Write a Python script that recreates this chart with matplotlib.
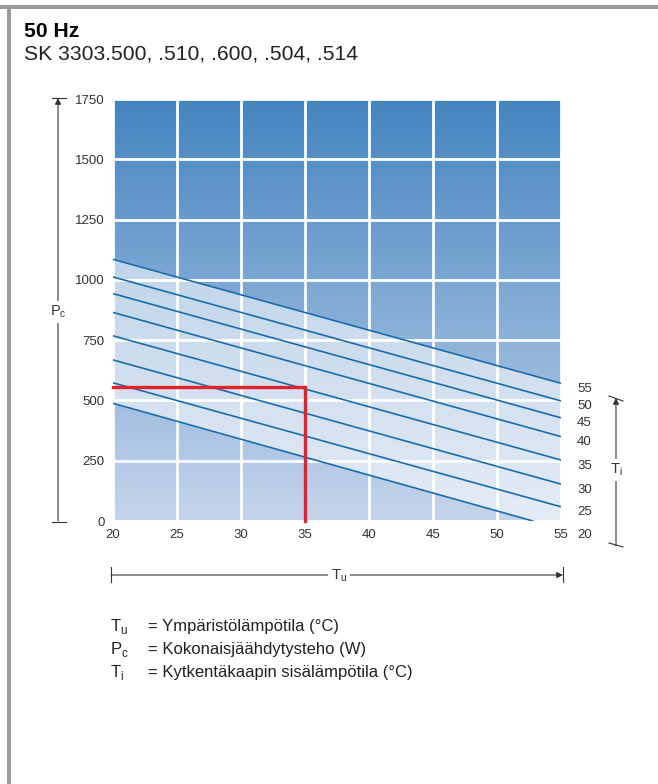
import numpy as np
import matplotlib.pyplot as plt
from matplotlib.colors import LinearSegmentedColormap
from matplotlib.lines import Line2D
from matplotlib.patches import Rectangle

plt.rcParams['font.family'] = ['Liberation Sans', 'DejaVu Sans']
plt.rcParams['mathtext.fontset'] = 'custom'
plt.rcParams['mathtext.rm'] = 'Liberation Sans'

# Ti curves: cooling output Pc at Tu = 20 and at the right end
ti_values = [55, 50, 45, 40, 35, 30, 25, 20]
pc_at_20 = [1085, 1012, 943, 865, 768, 668, 573, 488]
tu_end = [55, 55, 55, 55, 55, 55, 55, 52.8]
pc_at_end = [571, 498, 428, 350, 253, 153, 59, 0]

# example operating point
op_tu = 35
op_pc = 555

x_ticks = [20, 25, 30, 35, 40, 45, 50, 55]
y_ticks = [0, 250, 500, 750, 1000, 1250, 1500, 1750]

legend_rows = [
    ("T$_\\mathrm{u}$", "= Ympäristölämpötila (°C)"),
    ("P$_\\mathrm{c}$", "= Kokonaisjäähdytysteho (W)"),
    ("T$_\\mathrm{i}$", "= Kytkentäkaapin sisälämpötila (°C)"),
]

W, H = 658, 784
fig = plt.figure(figsize=(W / 100, H / 100), dpi=100)


def px(x, y):
    # pixel position (from top-left) -> figure fraction
    return x / W, 1 - y / H


ax = fig.add_axes([113 / W, 1 - 521 / H, 448 / W, 422 / H])

# background gradient
cmap = LinearSegmentedColormap.from_list("bg", ["#c6d5ec", "#4484c0"])
grad = np.linspace(0, 1, 256).reshape(-1, 1)
ax.imshow(grad, cmap=cmap, origin='lower', aspect='auto',
          extent=[20, 55, 0, 1750], zorder=0)

# lighter band between the 55 and 20 curves
xs = np.linspace(20, 55, 200)
top = np.interp(xs, [20, tu_end[0]], [pc_at_20[0], pc_at_end[0]])
bottom = np.interp(xs, [20, tu_end[-1]], [pc_at_20[-1], pc_at_end[-1]], right=0)
ax.fill_between(xs, bottom, top, color='white', alpha=0.55, lw=0, zorder=1)

ax.set_xlim(20, 55)
ax.set_ylim(0, 1750)
ax.set_xticks(x_ticks)
ax.set_yticks(y_ticks)
ax.grid(True, color='white', lw=2)
ax.set_axisbelow(False)
for s in ax.spines.values():
    s.set_visible(False)
ax.tick_params(length=0, labelsize=9.5, labelcolor='#333333', pad=6)

for ti, p0, te, p1 in zip(ti_values, pc_at_20, tu_end, pc_at_end):
    ax.plot([20, te], [p0, p1], color='#1a6db0', lw=1.2, zorder=3)
    dy = -10 if p1 == 0 else -4
    ax.annotate(str(ti), xy=(55, p1), xytext=(11.5, dy), textcoords='offset points',
                fontsize=9.5, color='#333333', va='center', ha='left',
                annotation_clip=False)

ax.plot([20, op_tu, op_tu], [op_pc, op_pc, 0], color='#e8202a', lw=2.4,
        zorder=4, solid_joinstyle='miter', clip_on=False)

# frame
fig.patches.append(Rectangle(px(0, 9), 1, 4 / H, transform=fig.transFigure,
                             color='#9a9a9a', lw=0))
fig.patches.append(Rectangle(px(7, H), 4 / W, 1 - 5 / H, transform=fig.transFigure,
                             color='#9a9a9a', lw=0))

fig.text(*px(24, 37), "50 Hz", fontsize=15.2, fontweight='bold', va='baseline')
fig.text(*px(24, 60), "SK 3303.500, .510, .600, .504, .514", fontsize=15.2,
         va='baseline', color='#222222')

lc = '#333333'


def line(p, q, **kw):
    fig.add_artist(Line2D([p[0], q[0]], [p[1], q[1]], transform=fig.transFigure,
                          color=lc, lw=0.8, **kw))


def arrow(p, q):
    fig.patches.append(plt.matplotlib.patches.FancyArrowPatch(
        p, q, transform=fig.transFigure, arrowstyle='-|>', mutation_scale=9,
        color=lc, lw=0.8, shrinkA=0, shrinkB=0))


# Pc arrow
arrow(px(58, 521), px(58, 98))
line(px(52, 97.5), px(66, 97.5))
line(px(52, 521.5), px(66, 521.5))
fig.text(*px(58, 312), "P$_\\mathrm{c}$", fontsize=10.5, ha='center', va='center',
         color=lc, bbox=dict(facecolor='white', edgecolor='none', pad=2))

# Ti arrow
arrow(px(616, 546), px(616, 398))
line(px(609, 396), px(623, 401))
line(px(609, 543), px(623, 547))
fig.text(*px(616, 470), "T$_\\mathrm{i}$", fontsize=10.5, ha='center', va='center',
         color=lc, bbox=dict(facecolor='white', edgecolor='none', pad=2))

# Tu arrow
arrow(px(111, 575), px(563, 575))
line(px(111, 567), px(111, 582))
line(px(563, 567), px(563, 582))
fig.text(*px(339, 576), "T$_\\mathrm{u}$", fontsize=10.5, ha='center', va='center',
         color=lc, bbox=dict(facecolor='white', edgecolor='none', pad=2))

# legend
for i, (sym, desc) in enumerate(legend_rows):
    y = 626 + i * 23.5
    fig.text(*px(110, y), sym, fontsize=12, va='center', color='#222222')
    fig.text(*px(148, y), desc, fontsize=12, va='center', color='#222222')

fig.savefig("out.png", dpi=100)
